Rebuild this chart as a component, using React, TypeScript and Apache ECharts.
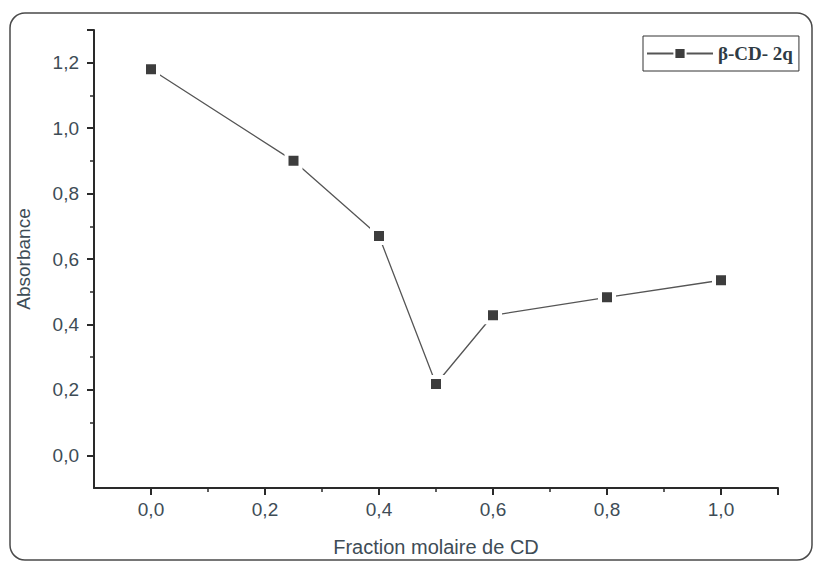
import React, { useEffect, useRef } from "react";
import * as echarts from "echarts";

const fractions = [0.0, 0.25, 0.4, 0.5, 0.6, 0.8, 1.0];
const absorbance = [1.18, 0.9, 0.67, 0.218, 0.428, 0.483, 0.535];
const seriesName = "β-CD- 2q";
const xTitle = "Fraction molaire de CD";
const yTitle = "Absorbance";

const fmt = (v: number) => v.toFixed(1).replace(".", ",");
const isEven = (v: number) => Math.round(v * 10) % 2 === 0;

export default function App() {
  const ref = useRef<HTMLDivElement>(null);
  useEffect(() => {
    if (!ref.current) return;
    const chart = echarts.init(ref.current, null, { renderer: "svg" });
    const labelColor = "#3e4c56";
    const axisColor = "#2a2a2a";
    const font = "Liberation Sans, Arial, sans-serif";
    // main plot: x -0.1..1.1 over 94..778 ; y -0.1..1.3 over 488..30
    const L = 94, R = 39, T = 30, B = 77;
    const pxPerX = (817 - L - R) / 1.2;
    const pxPerY = (565 - T - B) / 1.4;
    const hiddenAxis = { show: false };
    chart.setOption({
      animation: false,
      backgroundColor: "#fff",
      graphic: [
        {
          type: "rect",
          shape: { x: 10, y: 13, width: 802, height: 547, r: 15 },
          style: { fill: "none", stroke: "#4a4a4a", lineWidth: 1.5 },
          silent: true,
        },
      ],
      legend: {
        left: 643,
        top: 36,
        padding: [8, 6, 8, 3],
        borderColor: "#333",
        borderWidth: 1,
        itemWidth: 66,
        itemHeight: 14,
        textStyle: {
          fontFamily: "Liberation Serif, Times New Roman, serif",
          fontWeight: "bold",
          fontSize: 19,
          color: "#2f3b44",
        },
        data: [seriesName],
      },
      grid: [
        { left: L, right: R, top: T, bottom: B },
        { left: L + 0.1 * pxPerX, right: R, top: T, bottom: B },
        { left: L, right: R, top: T, bottom: B + 0.1 * pxPerY },
      ],
      xAxis: [
        {
          gridIndex: 0,
          type: "value",
          min: -0.1,
          max: 1.1,
          interval: 0.1,
          name: xTitle,
          nameLocation: "middle",
          nameGap: 49,
          nameTextStyle: { fontFamily: font, fontSize: 20, color: labelColor },
          axisLine: { show: true, onZero: false, lineStyle: { color: axisColor, width: 2 } },
          axisTick: { show: true, length: 4, lineStyle: { color: axisColor, width: 1.5 } },
          axisLabel: {
            formatter: (v: number) => (isEven(v) && v > -0.05 && v < 1.05 ? fmt(v) : ""),
            fontFamily: font,
            fontSize: 19,
            color: labelColor,
            margin: 12,
            showMinLabel: false,
            showMaxLabel: false,
          },
          splitLine: { show: false },
        },
        {
          gridIndex: 1,
          type: "value",
          min: 0,
          max: 1.1,
          interval: 0.2,
          axisLine: { show: false, onZero: false },
          axisTick: { show: true, length: 7, lineStyle: { color: axisColor, width: 2 } },
          axisLabel: { show: false },
          splitLine: { show: false },
        },
        { gridIndex: 2, type: "value", min: -0.1, max: 1.1, ...hiddenAxis },
      ],
      yAxis: [
        {
          gridIndex: 0,
          type: "value",
          min: -0.1,
          max: 1.3,
          interval: 0.1,
          name: yTitle,
          nameLocation: "middle",
          nameGap: 61,
          nameTextStyle: { fontFamily: font, fontSize: 19, color: labelColor },
          axisLine: { show: true, onZero: false, lineStyle: { color: axisColor, width: 2 } },
          axisTick: { show: true, length: 4, lineStyle: { color: axisColor, width: 1.5 } },
          axisLabel: {
            formatter: (v: number) => (isEven(v) && v > -0.05 && v < 1.25 ? fmt(v) : ""),
            fontFamily: font,
            fontSize: 19,
            color: labelColor,
            margin: 15,
            showMinLabel: false,
            showMaxLabel: false,
          },
          splitLine: { show: false },
        },
        { gridIndex: 1, type: "value", min: 0, max: 1.3, ...hiddenAxis },
        {
          gridIndex: 2,
          type: "value",
          min: 0,
          max: 1.3,
          interval: 0.2,
          axisLine: { show: false, onZero: false },
          axisTick: { show: true, length: 7, lineStyle: { color: axisColor, width: 2 } },
          axisLabel: { show: false },
          splitLine: { show: false },
        },
      ],
      series: [
        {
          name: seriesName,
          type: "line",
          xAxisIndex: 0,
          yAxisIndex: 0,
          data: fractions.map((f, i) => [f, absorbance[i]]),
          symbol: "rect",
          symbolSize: 14,
          lineStyle: { color: "#555", width: 1.3 },
          itemStyle: { color: "#3d3d3d", borderColor: "#fff", borderWidth: 4 },
        },
      ],
    });
    return () => chart.dispose();
  }, []);
  return (
    <div
      ref={ref}
      style={{ position: "fixed", left: 0, top: 0, width: 817, height: 565 }}
    />
  );
}
